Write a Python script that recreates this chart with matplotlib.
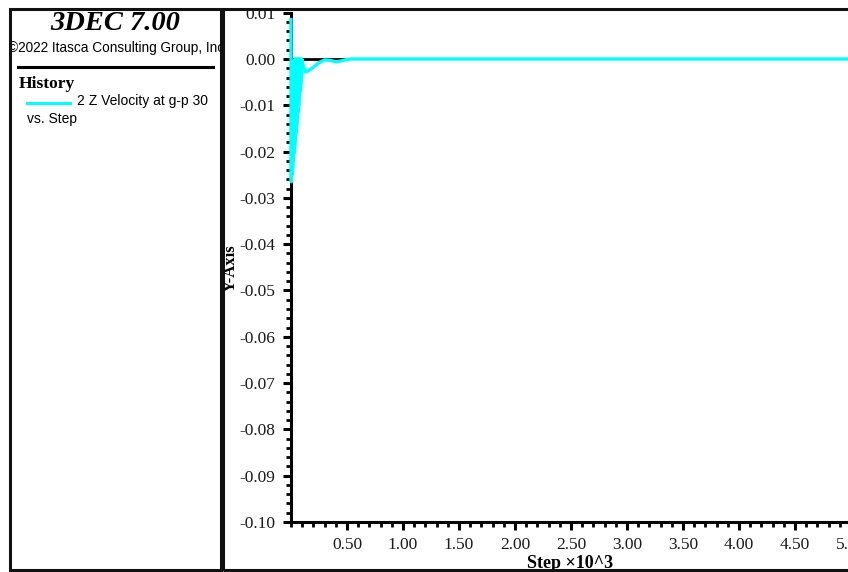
import matplotlib
matplotlib.use('Agg')
import matplotlib.pyplot as plt
from matplotlib.patches import Rectangle
from matplotlib.lines import Line2D
from matplotlib.ticker import MultipleLocator, FixedLocator
from matplotlib.transforms import Bbox, TransformedBbox

# history data (step x10^3, z velocity)
steps = [0.000, 0.003, 0.006, 0.009, 0.012, 0.015, 0.018, 0.021, 0.024, 0.027,
         0.030, 0.033, 0.036, 0.039, 0.042, 0.045, 0.048, 0.051, 0.054, 0.057,
         0.060, 0.063, 0.066, 0.069, 0.072, 0.075, 0.078, 0.081, 0.084, 0.087,
         0.090, 0.094, 0.098, 0.104, 0.130, 0.160, 0.200, 0.250, 0.300, 0.350,
         0.400, 0.450, 0.500, 0.550, 5.200]
z_vel = [0.0085, -0.0265, -0.0030, -0.0250, -0.0015, -0.0235, -0.0010, -0.0220, -0.0005, -0.0205,
         -0.0010, -0.0190, 0.0000, -0.0175, -0.0010, -0.0160, 0.0000, -0.0145, -0.0010, -0.0130,
         0.0000, -0.0115, -0.0010, -0.0100, 0.0000, -0.0085, -0.0010, -0.0070, 0.0000, -0.0055,
         -0.0005, -0.0040, 0.0000, -0.0012, -0.0028, -0.0025, -0.0018, -0.0008, -0.0002, -0.0003,
         -0.0006, -0.0004, -0.0001, 0.0000, 0.0000]
zero_steps = [0.0, 0.5]
zero_vals = [0.0, 0.0]

title = "3DEC 7.00"
copyright_txt = "\u00a92022 Itasca Consulting Group, Inc"
legend_txt = "2 Z Velocity at g-p 30"

W, H = 848, 572
fig = plt.figure(figsize=(W / 100, H / 100), dpi=100)
fig.patch.set_facecolor('white')

def fx(px):
    return px / W

def fy(py):
    return 1 - py / H

serif = 'Liberation Serif'
sans = 'Liberation Sans'

# frames
for x0, x1 in [(10, 221), (223, 860)]:
    fig.patches.append(Rectangle((fx(x0), fy(570)), fx(x1 - x0), (570 - 9) / H,
                                 transform=fig.transFigure, fill=False,
                                 edgecolor='#111111', linewidth=2.2, zorder=10))

# left panel
fig.text(fx(115), fy(24), title, ha='center', va='center', family=serif,
         weight='bold', style='italic', fontsize=20.5)
t = fig.text(fx(116), fy(48), copyright_txt, ha='center', va='center',
             family=sans, fontsize=9.8)
t.set_clip_box(TransformedBbox(Bbox([[fx(11), 0], [fx(220), 1]]), fig.transFigure))
t.set_clip_on(True)
fig.lines.append(Line2D([fx(18), fx(213)], [fy(67), fy(67)], transform=fig.transFigure,
                        color='black', linewidth=2.2))
fig.text(fx(19), fy(84), "History", ha='left', va='center', family=serif,
         weight='bold', fontsize=12.6)
fig.lines.append(Line2D([fx(27), fx(70)], [fy(103), fy(103)], transform=fig.transFigure,
                        color='#00ffff', linewidth=2.2))
fig.text(fx(77), fy(101), legend_txt, ha='left', va='center', family=sans, fontsize=10)
fig.text(fx(27), fy(119), "vs. Step", ha='left', va='center', family=sans, fontsize=10)

# plot area
xmax = 5.2
left, right = 291, 291 + 112 * xmax
top, bottom = 12.7, 522
ax = fig.add_axes([fx(left), fy(bottom), (right - left) / W, (bottom - top) / H])
ax.set_facecolor('none')
ax.plot(zero_steps, zero_vals, color='black', linewidth=2.0, zorder=2, clip_on=False)
ax.plot(steps, z_vel, color='#00ffff', linewidth=2.4, zorder=3, clip_on=False)
ax.set_xlim(0, xmax)
ax.set_ylim(-0.10, 0.01)

for s in ['top', 'right']:
    ax.spines[s].set_visible(False)
for s in ['left', 'bottom']:
    ax.spines[s].set_linewidth(2.2)
    ax.spines[s].set_color('black')

ax.xaxis.set_major_locator(FixedLocator([0.5 * i for i in range(1, 11)]))
ax.xaxis.set_minor_locator(MultipleLocator(0.1))
ax.yaxis.set_major_locator(MultipleLocator(0.01))
ax.yaxis.set_minor_locator(MultipleLocator(0.002))
ax.xaxis.set_major_formatter(plt.FuncFormatter(lambda v, p: "%.2f" % v))
ax.yaxis.set_major_formatter(plt.FuncFormatter(lambda v, p: "%.2f" % (0 if abs(v) < 1e-9 else v)))
ax.tick_params(which='major', direction='out', length=6, width=2.2, pad=5,
               labelsize=12.5, labelcolor='#1a1a1a')
ax.tick_params(which='minor', direction='out', length=3.5, width=2.0)
for lab in ax.get_xticklabels() + ax.get_yticklabels():
    lab.set_family(serif)

fig.text(fx(570), fy(564), "Step \u00d710^3", ha='center', va='center', family=serif,
         weight='bold', fontsize=13)
fig.text(fx(231), fy(268), "Y-Axis", ha='center', va='center', rotation=90,
         family=serif, weight='bold', fontsize=12)

plt.savefig('out.png', dpi=100)
